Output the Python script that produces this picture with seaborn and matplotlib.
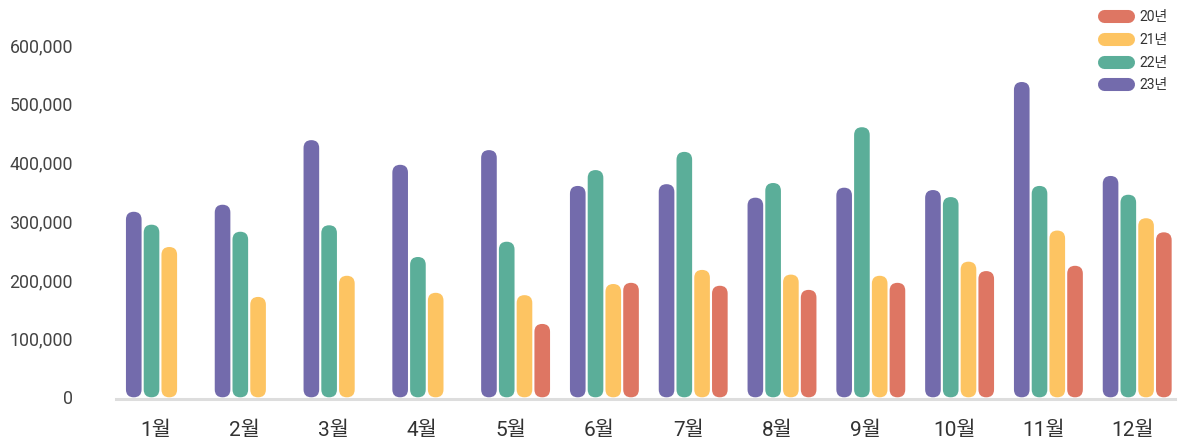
import pandas as pd
import matplotlib
matplotlib.use("Agg")
import matplotlib.pyplot as plt
import matplotlib.ticker as ticker
import matplotlib.transforms as mtransforms
import seaborn as sns
from matplotlib.patches import FancyBboxPatch
from matplotlib.lines import Line2D

# Monthly values per year (20년 has no data for Jan-Apr)
months = ["1월", "2월", "3월", "4월", "5월", "6월", "7월", "8월", "9월", "10월", "11월", "12월"]
v23 = [316000, 328000, 438000, 396000, 421000, 360000, 363000, 340000, 357000, 353000, 537000, 377000]
v22 = [294000, 282000, 293000, 239000, 265000, 387000, 418000, 365000, 460000, 341000, 360000, 345000]
v21 = [256000, 171000, 207000, 178000, 174000, 193000, 217000, 209000, 207000, 231000, 284000, 305000]
v20 = [None, None, None, None, 125000, 195000, 190000, 183000, 195000, 215000, 224000, 281000]

years = ["23년", "22년", "21년", "20년"]
colors = {"20년": "#DE7663", "21년": "#FDC462", "22년": "#5BAE99", "23년": "#736BAC"}

df = pd.DataFrame({"month": months * 4,
                   "year": sum([[y] * 12 for y in years], []),
                   "value": v23 + v22 + v21 + v20}).dropna()

sns.set_style("white")
plt.rcParams['font.family'] = ['Roboto', 'Noto Sans CJK KR', 'DejaVu Sans']

fig = plt.figure(figsize=(11.79, 4.45), dpi=100)
ax = fig.add_axes([116 / 1179, (445 - 398.5) / 445, 1065.6 / 1179, 353.5 / 445])

sns.barplot(data=df, x="month", y="value", hue="year", order=months, hue_order=years,
            palette=colors, saturation=1, width=0.8, gap=0.12, legend=False, ax=ax)

ax.set_xlim(-0.5, 11.5)
ax.set_ylim(-2000, 600000)

# Swap the square bars for rounded capsules
pos = ax.get_position()
w_px = fig.bbox.width * pos.width
h_px = fig.bbox.height * pos.height
aspect = (602000 / h_px) / (12 / w_px)
for p in list(ax.patches):
    x, w, h = p.get_x(), p.get_width(), p.get_height()
    fc = p.get_facecolor()
    p.remove()
    if not h or h != h:
        continue
    ax.add_patch(FancyBboxPatch((x, 0), w, h, boxstyle=f"round,pad=0,rounding_size={w / 2}",
                                mutation_aspect=aspect, fc=fc, ec="none", zorder=3))

# Axes formatting
ax.yaxis.set_major_locator(ticker.MultipleLocator(100000))
ax.yaxis.set_major_formatter(ticker.StrMethodFormatter("{x:,.0f}"))
ax.tick_params(axis="y", length=0, pad=31, labelsize=12.8, labelcolor="#444444")
ax.tick_params(axis="x", length=0, pad=16, labelsize=15, labelcolor="#333333")
ax.set_xlabel("")
ax.set_ylabel("")
for s in ["top", "right", "left"]:
    ax.spines[s].set_visible(False)
ax.spines["bottom"].set_color("#DDDDDD")
ax.spines["bottom"].set_linewidth(2.2)
ax.spines["bottom"].set_bounds(-0.5, 11.425)

offset = mtransforms.ScaledTranslation(-5 / 100, 0, fig.dpi_scale_trans)
for lbl in ax.get_xticklabels():
    lbl.set_transform(lbl.get_transform() + offset)

# Legend with pill-shaped handles
handles = [Line2D([], [], color=colors[y], lw=9.4, solid_capstyle="round") for y in ["20년", "21년", "22년", "23년"]]
fig.legend(handles, ["20년", "21년", "22년", "23년"], loc="upper right",
           bbox_to_anchor=(1168 / 1179, 1 - 10 / 445), frameon=False, fontsize=10,
           handlelength=1.7, handletextpad=0.85, labelspacing=0.63, borderpad=0,
           borderaxespad=0, labelcolor="#333333")

plt.savefig("out.png", dpi=100)
